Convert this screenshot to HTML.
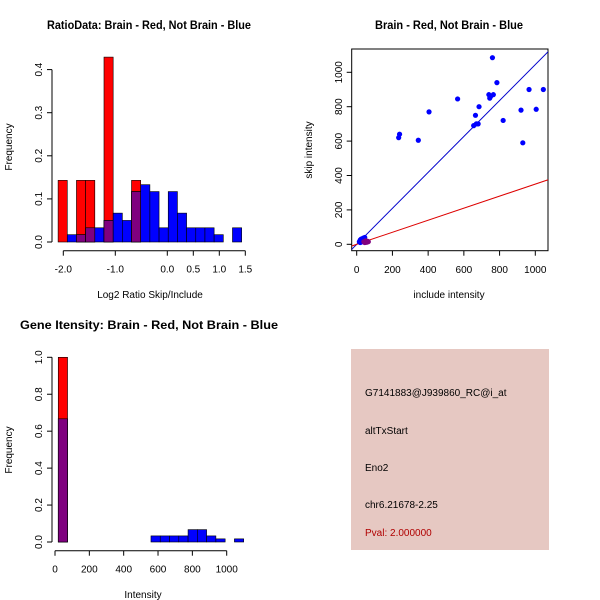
<!DOCTYPE html>
<html><head><meta charset="utf-8"><style>
body{margin:0;background:#fff}
svg{display:block;font-family:"Liberation Sans",Arial,sans-serif}
text{fill:#000}
</style></head><body>
<svg id="s" width="600" height="600" viewBox="0 0 600 600">
<rect width="600" height="600" fill="#fff"/>
<text x="149" y="29" font-size="12" font-weight="bold" text-anchor="middle" textLength="204" lengthAdjust="spacingAndGlyphs">RatioData: Brain - Red, Not Brain - Blue</text>
<text x="449" y="29" font-size="12" font-weight="bold" text-anchor="middle" textLength="148" lengthAdjust="spacingAndGlyphs">Brain - Red, Not Brain - Blue</text>
<text x="149" y="329" font-size="12" font-weight="bold" text-anchor="middle" textLength="258" lengthAdjust="spacingAndGlyphs">Gene Itensity: Brain - Red, Not Brain - Blue</text>
<g id="p1"></g>
<g id="p2"></g>
<g id="p3"></g>
<g>
<rect x="351" y="349" width="198" height="201" fill="#e6c8c2"/>
<text x="365" y="396" font-size="10">G7141883@J939860_RC@i_at</text>
<text x="365" y="434" font-size="10">altTxStart</text>
<text x="365" y="471" font-size="10">Eno2</text>
<text x="365" y="508" font-size="10">chr6.21678-2.25</text>
<text x="365" y="536" font-size="10" style="fill:#b00000">Pval: 2.000000</text>
</g>
</svg>
<script>
// Ratio histogram data
const ratioBinStart = -2.1;
const ratioBinWidth = 0.1765;
const ratioRed  = [0.143,0,0.143,0.143,0,0.429,0,0,0.143,0,0,0,0,0,0,0,0,0,0,0];
const ratioBlue = [0,0.017,0.017,0.033,0.033,0.05,0.067,0.05,0.117,0.133,0.117,0.033,0.117,0.067,0.033,0.033,0.033,0.017,0,0.033];
const ratioXTicks = [-2.0,-1.0,0.0,0.5,1.0,1.5];
const ratioXTickLabels = ["-2.0","-1.0","0.0","0.5","1.0","1.5"];
const ratioYTicks = [0,0.1,0.2,0.3,0.4];
// Scatter data
const brainX = [40,50,55,60,45,65];
const brainY = [15,20,12,18,10,15];
const notBrainX = [15,20,25,30,35,40,45,20,30,235,240,345,405,565,655,665,670,680,685,740,745,750,760,765,785,820,920,930,965,1005,1045];
const notBrainY = [15,25,30,20,35,25,40,10,15,620,640,605,770,845,690,750,700,700,800,870,850,860,1085,870,940,720,780,590,900,785,900];
const fitBlueSlope = 1.045, fitBlueInt = 0;
const fitRedSlope = 0.35, fitRedInt = 0;
const scatXTicks = [0,200,400,600,800,1000];
const scatYTicks = [0,200,400,600,800,1000];
// Intensity histogram data
const intBinStart = 19;
const intBinWidth = 54;
const intRed  = [1.0,0,0,0,0,0,0,0,0,0,0,0,0,0,0,0,0,0,0,0];
const intBlue = [0.667,0,0,0,0,0,0,0,0,0,0.033,0.033,0.033,0.033,0.067,0.067,0.033,0.017,0,0.017];
const intXTicks = [0,200,400,600,800,1000];
const intYTicks = [0,0.2,0.4,0.6,0.8,1.0];

const NS="http://www.w3.org/2000/svg";
function mk(parent,tag,attrs){const e=document.createElementNS(NS,tag);for(const k in attrs)e.setAttribute(k,attrs[k]);parent.appendChild(e);return e;}

function histogram(g,o){
  const sx=v=>o.x0+(v-o.xv0)*o.kx, sy=v=>o.y0-v*o.ky;
  for(let i=0;i<o.red.length;i++){
    const a=o.start+i*o.w, b=a+o.w;
    const x=sx(a), w=sx(b)-sx(a);
    const r=o.red[i], bl=o.blue[i];
    if(r>0){const e=mk(g,'rect',{x:x,y:sy(r),width:w,height:sy(0)-sy(r),fill:'#ff0000',stroke:'#000','stroke-width':0.6});
      
      }
    if(bl>0){const e=mk(g,'rect',{x:x,y:sy(bl),width:w,height:sy(0)-sy(bl),fill:'#0000ff',stroke:'#000','stroke-width':0.6});
      
      }
    if(r>0&&bl>0){const m=Math.min(r,bl);const e=mk(g,'rect',{x:x,y:sy(m),width:w,height:sy(0)-sy(m),fill:'#7f007f',stroke:'#000','stroke-width':0.6});
      
      }
  }
  // y axis
  const yt=o.yTicks;
  mk(g,'line',{x1:o.yax,x2:o.yax,y1:sy(yt[0]),y2:sy(yt[yt.length-1]),stroke:'#000'});
  yt.forEach(v=>{mk(g,'line',{x1:o.yax-5,x2:o.yax,y1:sy(v),y2:sy(v),stroke:'#000'});
    const t=mk(g,'text',{x:o.yax-10,y:sy(v),'font-size':10,'text-anchor':'middle',transform:`rotate(-90 ${o.yax-10} ${sy(v)})`});t.textContent=v.toFixed(1);
    
    });
  // x axis
  const xt=o.xTicks;
  mk(g,'line',{x1:sx(xt[0]),x2:sx(xt[xt.length-1]),y1:o.xay,y2:o.xay,stroke:'#000'});
  xt.forEach((v,i)=>{mk(g,'line',{x1:sx(v),x2:sx(v),y1:o.xay,y2:o.xay+5,stroke:'#000'});
    if(o.xLabels){const t=mk(g,'text',{x:sx(v),y:o.xay+22,'font-size':10,'text-anchor':'middle'});t.textContent=o.xLabels[i];
      
      }});
  const yl=mk(g,'text',{x:12,y:o.ylabY,'font-size':10,'text-anchor':'middle',transform:`rotate(-90 12 ${o.ylabY})`});yl.textContent='Frequency';
  
  
  const xl=mk(g,'text',{x:o.xlabX,y:o.xlabY,'font-size':10,'text-anchor':'middle'});xl.textContent=o.xTitle;
  
  
}

histogram(document.getElementById('p1'),{x0:63.3,xv0:-2,kx:52,y0:242,ky:431,start:ratioBinStart,w:ratioBinWidth,red:ratioRed,blue:ratioBlue,
  yax:52,xay:250.7,yTicks:ratioYTicks,xTicks:ratioXTicks,xLabels:ratioXTickLabels,ylabY:147,xlabX:150,xlabY:298,xTitle:'Log2 Ratio Skip/Include'});
histogram(document.getElementById('p3'),{x0:55,xv0:0,kx:0.1717,y0:542,ky:184.7,start:intBinStart,w:intBinWidth,red:intRed,blue:intBlue,
  yax:52,xay:550.7,yTicks:intYTicks,xTicks:intXTicks,xLabels:intXTicks.map(String),ylabY:450,xlabX:143,xlabY:598,xTitle:'Intensity'});

// scatter
(function(){
  const g=document.getElementById('p2');
  const sx=v=>356.7+v*0.1786, sy=v=>244.3-v*0.172;
  mk(g,'rect',{x:351.7,y:49,width:196.3,height:201.7,fill:'none',stroke:'#000'});
  const clip=mk(g,'clipPath',{id:'c2'});mk(clip,'rect',{x:351.7,y:49,width:196.3,height:201.7});
  const lg=mk(g,'g',{'clip-path':'url(#c2)'});
  const xa=-40,xb=1100;
  const bl=mk(lg,'line',{x1:sx(xa),y1:sy(fitBlueInt+fitBlueSlope*xa),x2:sx(xb),y2:sy(fitBlueInt+fitBlueSlope*xb),stroke:'#0000cc','stroke-width':1});
  
  
  const rl=mk(lg,'line',{x1:sx(xa),y1:sy(fitRedInt+fitRedSlope*xa),x2:sx(xb),y2:sy(fitRedInt+fitRedSlope*xb),stroke:'#dd0000','stroke-width':1});
  
  
  notBrainX.forEach((x,i)=>{const c=mk(g,'circle',{cx:sx(x),cy:sy(notBrainY[i]),r:2.6,fill:'#0000ff'});
    
    });
  brainX.forEach((x,i)=>{const c=mk(g,'circle',{cx:sx(x),cy:sy(brainY[i]),r:2.6,fill:'#7f007f'});
    
    });
  scatXTicks.forEach(v=>{mk(g,'line',{x1:sx(v),x2:sx(v),y1:250.7,y2:255.7,stroke:'#000'});
    const t=mk(g,'text',{x:sx(v),y:273,'font-size':10,'text-anchor':'middle'});t.textContent=v;
    
    });
  scatYTicks.forEach(v=>{mk(g,'line',{x1:346.7,x2:351.7,y1:sy(v),y2:sy(v),stroke:'#000'});
    const t=mk(g,'text',{x:342,y:sy(v),'font-size':10,'text-anchor':'middle',transform:`rotate(-90 342 ${sy(v)})`});t.textContent=v;
    
    });
  const xl=mk(g,'text',{x:449,y:298,'font-size':10,'text-anchor':'middle'});xl.textContent='include intensity';
  
  
  const yl=mk(g,'text',{x:312,y:150,'font-size':10,'text-anchor':'middle',transform:'rotate(-90 312 150)'});yl.textContent='skip intensity';
  
  
})();
</script>
</body></html>
